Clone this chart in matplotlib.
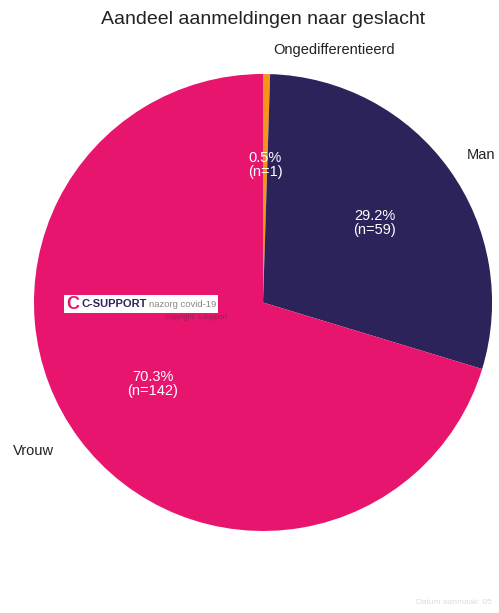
import matplotlib
matplotlib.use('Agg')
from matplotlib import pyplot as plt
from matplotlib.patches import Rectangle

plt.rcParams['font.family'] = ['Liberation Sans', 'DejaVu Sans']

categories = ['Ongedifferentieerd', 'Man', 'Vrouw']
counts = [1, 59, 142]
colors = ['#F7941D', '#2B2359', '#E8156E']

total = sum(counts)

fig = plt.figure(figsize=(4.99, 6.13), dpi=100)
ax = fig.add_axes([0.0681, 0.1338, 0.918, 0.7455])

wedges, texts, autotexts = ax.pie(
    counts, colors=colors, startangle=90, counterclock=False,
    radius=1, pctdistance=0.6,
    autopct=lambda p: '%.1f%%\n(n=%d)' % (p, round(p * total / 100)),
    wedgeprops=dict(linewidth=0),
    textprops=dict(color='white', fontsize=10.5))
ax.set_xlim(-1, 1)
ax.set_ylim(-1, 1)
ax.set_aspect('auto')
ax.axis('off')

for t in autotexts:
    t.set_linespacing(1.0)
autotexts[0].set_position((0.01, 0.60))

# category labels outside the pie
ax.text(0.31, 1.105, categories[0], ha='center', va='center', fontsize=10.5, color='#222222')
ax.text(0.89, 0.645, categories[1], ha='left', va='center', fontsize=10.5, color='#222222')
ax.text(-1.09, -0.65, categories[2], ha='left', va='center', fontsize=10.5, color='#222222')

fig.text(0.527, 0.968, 'Aandeel aanmeldingen naar geslacht', ha='center', va='center',
         fontsize=14, color='#222222')

# logo
fig.patches.append(Rectangle((0.128, 0.4894), 0.309, 0.0294, transform=fig.transFigure,
                             facecolor='white', edgecolor='none', zorder=1))
fig.text(0.132, 0.5035, 'C', ha='left', va='center', fontsize=13, fontweight='bold',
         color='#E8156E', zorder=2)
fig.text(0.164, 0.5035, 'C-SUPPORT', ha='left', va='center', fontsize=8,
         fontweight='bold', color='#2B2359', zorder=2)
fig.text(0.298, 0.5035, 'nazorg covid-19', ha='left', va='center', fontsize=6.8,
         color='#888888', zorder=2)
fig.text(0.33, 0.482, 'copyright: c-support', ha='left', va='center', fontsize=5,
         color='#7a2048', alpha=0.7, zorder=2)

fig.text(0.985, 0.012, 'Datum aanmaak: 05', ha='right', va='bottom', fontsize=6,
         color='#dddddd')

fig.savefig('out.png', dpi=100)
